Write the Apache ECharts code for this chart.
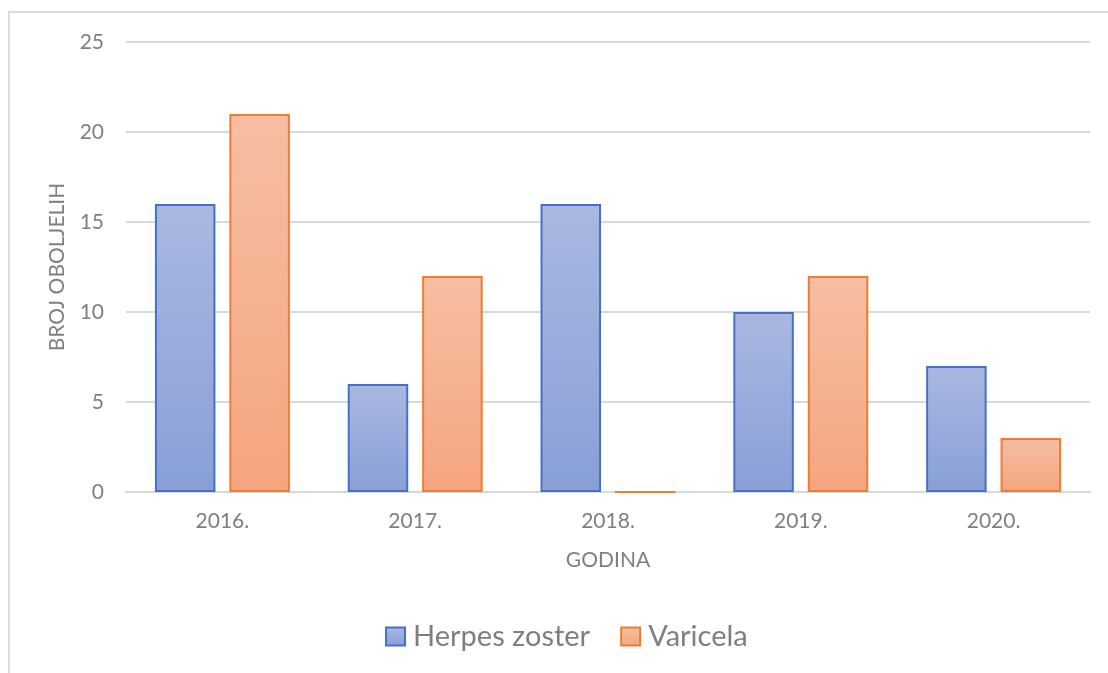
<!DOCTYPE html>
<html>
<head>
<meta charset="utf-8">
<script src="https://cdn.jsdelivr.net/npm/echarts@6/dist/echarts.min.js"></script>
<style>
  html, body { margin: 0; padding: 0; background: #fff; overflow: hidden; }
  #frame {
    position: absolute; left: 8px; top: 11px;
    width: 1200px; height: 800px;
    border: 2px solid #d9d9d9;
  }
  #chart { position: absolute; left: 0; top: 0; width: 1108px; height: 673px; }
</style>
</head>
<body>
<div id="frame"></div>
<div id="chart"></div>
<script>
const years = ['2016.', '2017.', '2018.', '2019.', '2020.']
const herpesZoster = [16, 6, 16, 10, 7]
const varicela = [21, 12, 0, 12, 3]
const yTicks = { min: 0, max: 25, interval: 5 }

const textColor = '#7f7f7f'
const fontFamily = 'Lato, "Open Sans", sans-serif'

function grad(top, bottom) {
  return new echarts.graphic.LinearGradient(0, 0, 0, 1, [
    { offset: 0, color: top },
    { offset: 1, color: bottom }
  ])
}

const chart = echarts.init(document.getElementById('chart'), null, { renderer: 'canvas' })

const option = {
  backgroundColor: 'transparent',
  animation: false,
  textStyle: { fontFamily: fontFamily, color: textColor },
  grid: { left: 126, right: 18, top: 42, bottom: 181 },
  legend: {
    left: 380,
    top: 617,
    icon: 'rect',
    itemWidth: 19,
    itemHeight: 18,
    itemGap: 30,
    textStyle: { fontSize: 29, color: textColor, fontFamily: fontFamily, padding: [0, 0, 0, 3] },
    data: ['Herpes zoster', 'Varicela']
  },
  xAxis: {
    type: 'category',
    data: years,
    name: 'GODINA',
    nameLocation: 'middle',
    nameGap: 58,
    nameTextStyle: { fontSize: 21, color: textColor },
    axisLine: { lineStyle: { color: '#d9d9d9', width: 2 } },
    axisTick: { show: false },
    axisLabel: { fontSize: 21, color: textColor, margin: 19 }
  },
  yAxis: {
    type: 'value',
    min: yTicks.min,
    max: yTicks.max,
    interval: yTicks.interval,
    name: 'BROJ OBOLJELIH',
    nameLocation: 'middle',
    nameGap: 58,
    nameTextStyle: { fontSize: 21, color: textColor },
    axisLine: { show: false },
    axisTick: { show: false },
    axisLabel: { fontSize: 21, color: textColor, margin: 22 },
    splitLine: { lineStyle: { color: '#d9d9d9', width: 2 } }
  },
  series: [
    {
      name: 'Herpes zoster',
      type: 'bar',
      data: herpesZoster,
      barGap: '23%',
      barCategoryGap: '30%',
      itemStyle: {
        color: grad('#aab8e1', '#889fd7'),
        borderColor: '#4472c4',
        borderWidth: 2
      }
    },
    {
      name: 'Varicela',
      type: 'bar',
      data: varicela,
      itemStyle: {
        color: grad('#f6bea3', '#f5a57f'),
        borderColor: '#ed7d31',
        borderWidth: 2
      }
    }
  ]
}

chart.setOption(option)
</script>
</body>
</html>
